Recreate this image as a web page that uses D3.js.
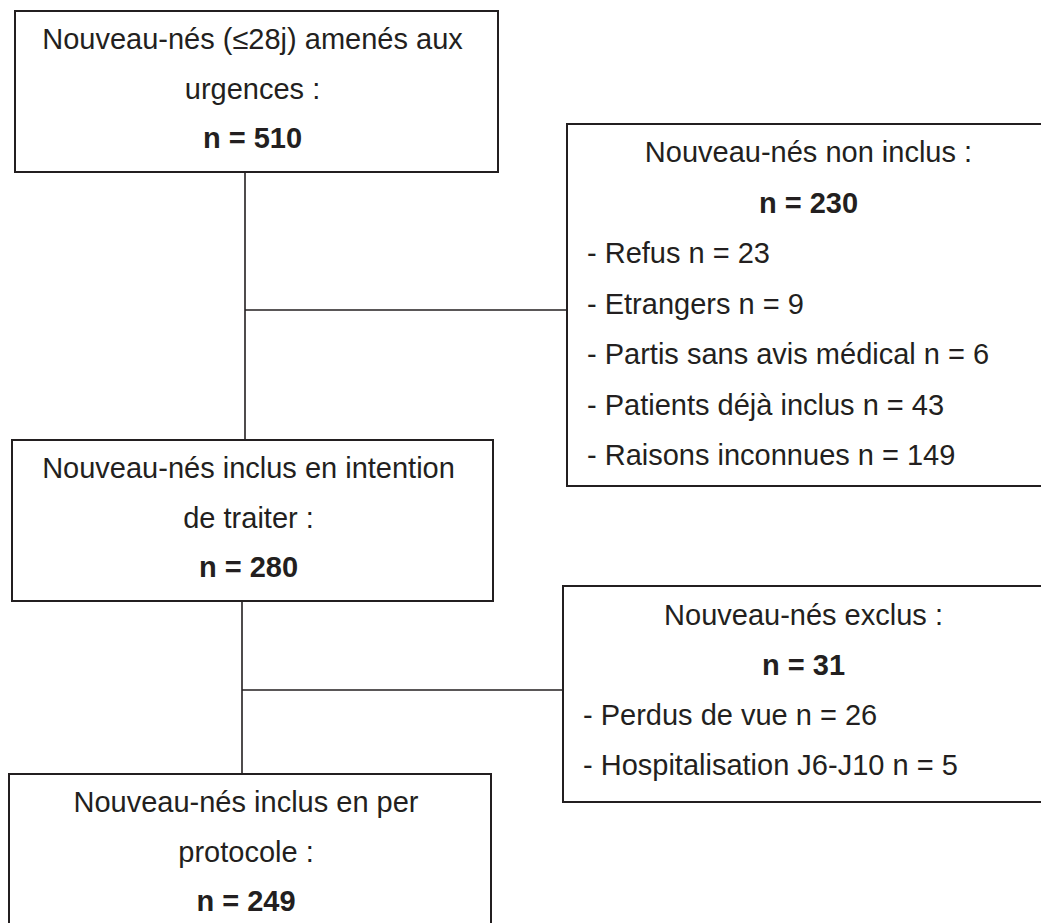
<!DOCTYPE html>
<html>
<head>
  <meta charset="utf-8">
  <script src="https://d3js.org/d3.v7.min.js"></script>
  <style type="text/css">
    body {
      margin: 0;
      background: #fff;
    }
    #chart text {
      font-family: "Liberation Sans", Arial, sans-serif;
      font-size: 29px;
      fill: #231f20;
    }
    #chart text.count {
      font-weight: bold;
    }
    #chart .box {
      fill: #fff;
      stroke: #231f20;
      stroke-width: 2px;
    }
    #chart .link {
      stroke: #231f20;
      stroke-width: 1.6px;
      fill: none;
    }
  </style>
</head>
<body>
<svg id="chart" width="1041" height="923"></svg>

<script type="text/javascript">
// flow diagram data
const mainLabels = [
  ["Nouveau-nés (≤28j) amenés aux", "urgences :"],
  ["Nouveau-nés inclus en intention", "de traiter :"],
  ["Nouveau-nés inclus en per", "protocole :"]
];
const mainCounts = [510, 280, 249];

const sideTitles = ["Nouveau-nés non inclus :", "Nouveau-nés exclus :"];
const sideCounts = [230, 31];

const notIncludedReasons = ["Refus", "Etrangers", "Partis sans avis médical", "Patients déjà inclus", "Raisons inconnues"];
const notIncludedCounts = [23, 9, 6, 43, 149];

const excludedReasons = ["Perdus de vue", "Hospitalisation J6-J10"];
const excludedCounts = [26, 5];

// layout (pixels)
const mainBoxes = [
  {x0: 15, y0: 11, x1: 498, y1: 172},
  {x0: 12, y0: 440, x1: 493, y1: 601},
  {x0: 9, y0: 774, x1: 491, y1: 945}
];
const sideBoxes = [
  {x0: 567, y0: 124, x1: 1050, y1: 486},
  {x0: 563, y0: 586, x1: 1044, y1: 802}
];
const trunks = [
  {x: 245, branchY: 310},
  {x: 242, branchY: 690}
];

var svg = d3.select('#chart');

// row index -> baseline offset from box top
const mainRow = d3.scaleLinear().domain([0, 1]).range([38, 87.5]);
const sideRow = [
  d3.scaleLinear().domain([0, 1]).range([38, 88.5]),
  d3.scaleLinear().domain([0, 1]).range([39, 89])
];

// connectors first, boxes drawn on top
trunks.forEach(function(t, i) {
  var from = mainBoxes[i], to = mainBoxes[i + 1], side = sideBoxes[i];
  svg.append('line').attr('class', 'link')
    .attr('x1', t.x).attr('y1', from.y1)
    .attr('x2', t.x).attr('y2', to.y0);
  svg.append('line').attr('class', 'link')
    .attr('x1', t.x).attr('y1', t.branchY)
    .attr('x2', side.x0).attr('y2', t.branchY);
});

// main column
mainBoxes.forEach(function(b, i) {
  var g = svg.append('g');
  g.append('rect').attr('class', 'box')
    .attr('x', b.x0).attr('y', b.y0)
    .attr('width', b.x1 - b.x0).attr('height', b.y1 - b.y0);
  var cx = (b.x0 + b.x1) / 2 - 4;
  var rows = mainLabels[i].map(d => ({text: d, cls: 'label'}))
    .concat([{text: 'n = ' + mainCounts[i], cls: 'count'}]);
  g.selectAll('text').data(rows).enter().append('text')
    .attr('class', d => d.cls)
    .attr('x', cx)
    .attr('y', (d, j) => b.y0 + mainRow(j))
    .attr('text-anchor', 'middle')
    .text(d => d.text);
});

// side boxes
const sideReasons = [notIncludedReasons, excludedReasons];
const sideReasonCounts = [notIncludedCounts, excludedCounts];
sideBoxes.forEach(function(b, i) {
  var g = svg.append('g');
  g.append('rect').attr('class', 'box')
    .attr('x', b.x0).attr('y', b.y0)
    .attr('width', b.x1 - b.x0).attr('height', b.y1 - b.y0);
  var cx = (b.x0 + b.x1) / 2;
  var rows = [
    {text: sideTitles[i], cls: 'label', anchor: 'middle'},
    {text: 'n = ' + sideCounts[i], cls: 'count', anchor: 'middle'}
  ].concat(sideReasons[i].map((r, k) => ({
    text: '- ' + r + ' n = ' + sideReasonCounts[i][k], cls: 'label', anchor: 'start'
  })));
  g.selectAll('text').data(rows).enter().append('text')
    .attr('class', d => d.cls)
    .attr('x', d => d.anchor === 'middle' ? cx : b.x0 + 20)
    .attr('y', (d, j) => b.y0 + sideRow[i](j))
    .attr('text-anchor', d => d.anchor)
    .text(d => d.text);
});
</script>
</body>
</html>
